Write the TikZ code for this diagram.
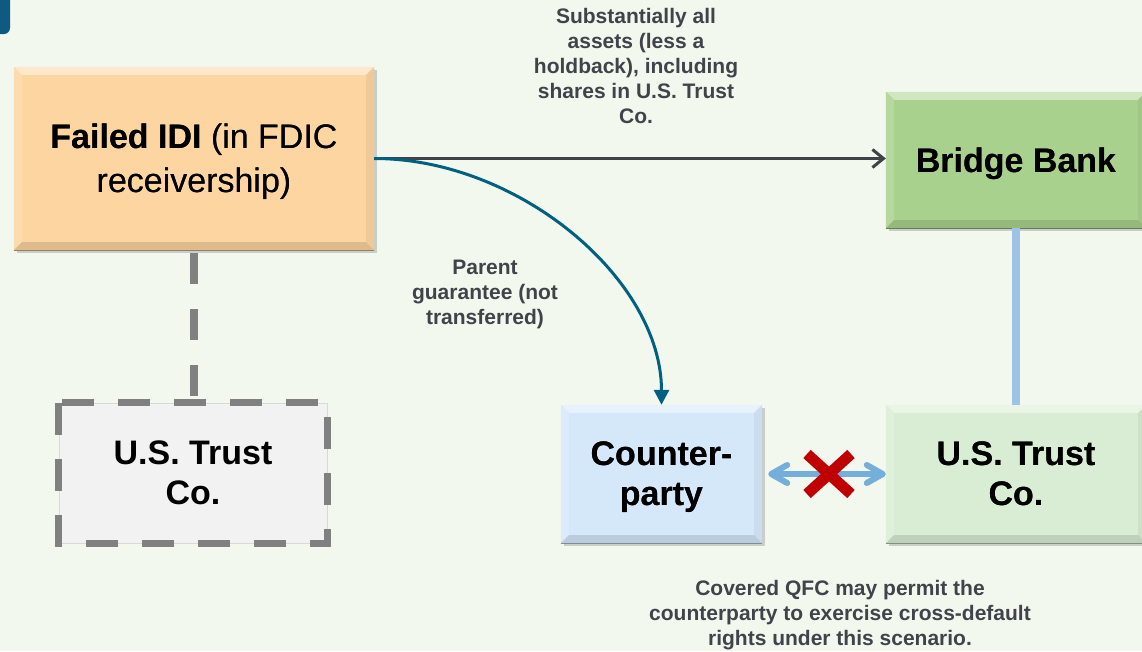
\documentclass[tikz,border=0pt]{standalone}
\usepackage{fontspec}
\setmainfont{Liberation Sans}
\usetikzlibrary{arrows.meta,shadows}
\definecolor{bgc}{HTML}{F3F8EF}
\definecolor{tabc}{HTML}{0E5A80}
\definecolor{peach}{HTML}{FCD5A0}
\definecolor{bridgec}{HTML}{A9D18E}
\definecolor{cpc}{HTML}{D5E8FA}
\definecolor{trustc}{HTML}{D8EDD3}
\definecolor{grayfill}{HTML}{F2F2F2}
\definecolor{dashc}{HTML}{808080}
\definecolor{darkc}{HTML}{3F4247}
\definecolor{tealc}{HTML}{00607F}
\definecolor{lblue}{HTML}{9DC3E6}
\definecolor{arrblue}{HTML}{74AFDA}
\definecolor{redx}{HTML}{C00000}
\definecolor{lblc}{HTML}{404349}
\newcommand\bevelize[2]{%
 \fill[#2!55!white] (#1.north west) -- (#1.north east) -- ([shift={(-8pt,-8pt)}]#1.north east) -- ([shift={(8pt,-8pt)}]#1.north west) -- cycle;
 \fill[#2!85!white] (#1.north west) -- ([shift={(8pt,-8pt)}]#1.north west) -- ([shift={(8pt,8pt)}]#1.south west) -- (#1.south west) -- cycle;
 \fill[#2!95!black] (#1.north east) -- ([shift={(-8pt,-8pt)}]#1.north east) -- ([shift={(-8pt,8pt)}]#1.south east) -- (#1.south east) -- cycle;
 \fill[#2!88!black] (#1.south west) -- ([shift={(8pt,8pt)}]#1.south west) -- ([shift={(-8pt,8pt)}]#1.south east) -- (#1.south east) -- cycle;
 \draw[#2!60!black, line width=1pt] (#1.south west) -- (#1.south east);
}
\begin{document}
\begin{tikzpicture}[x=1pt,y=-1pt,
  basebox/.style={inner sep=0pt, align=center, text depth=0pt, font=\fontsize{34}{40}\selectfont\bfseries},
  box/.style={basebox, drop shadow={shadow xshift=2.5pt,shadow yshift=-3pt,opacity=0.35}},
  lbl/.style={inner sep=0pt, align=center, text=lblc, font=\fontsize{21}{25}\selectfont\bfseries}]
\useasboundingbox (0,0) rectangle (1142,651);
\clip (0,0) rectangle (1142,651);
\fill[bgc] (0,0) rectangle (1142,651);
\fill[tabc, rounded corners=6pt] (-10,-10) rectangle (10,34);

% boxes
\node[box, fill=peach, minimum width=360pt, minimum height=183pt, font=\fontsize{34}{44}\selectfont] (idi) at (194,158.5) {\textbf{Failed IDI} (in FDIC\\receivership)};
\node[box, fill=bridgec, minimum width=260pt, minimum height=136pt] (bridge) at (1016,160) {Bridge Bank};
\node[box, fill=cpc, minimum width=201pt, minimum height=138pt] (cp) at (661.5,474) {Counter-\\party};
\node[box, fill=trustc, minimum width=260pt, minimum height=138pt] (trust) at (1016,474) {U.S. Trust\\Co.};
\node[basebox, fill=grayfill, draw=black!15, line width=0.8pt, minimum width=268pt, minimum height=140pt] (dtrust) at (193,473) {U.S. Trust\\Co.};
\draw[dashc, line width=7pt, dash pattern=on 32pt off 24pt] (dtrust.north west) rectangle (dtrust.south east);

\begin{scope}
\bevelize{idi}{peach}
\bevelize{bridge}{bridgec}
\bevelize{cp}{cpc}
\bevelize{trust}{trustc}
\end{scope}
\node[basebox, font=\fontsize{34}{44}\selectfont] at (idi) {\textbf{Failed IDI} (in FDIC\\receivership)};
\node[basebox] at (bridge) {Bridge Bank};
\node[basebox] at (cp) {Counter-\\party};
\node[basebox] at (trust) {U.S. Trust\\Co.};

% labels
\node[lbl] (lab1) at (636,65.5) {Substantially all\\assets (less a\\holdback), including\\shares in U.S. Trust\\Co.};
\node[lbl] (lab2) at (485,294.7) {Parent\\guarantee (not\\transferred)};
\node[lbl] (lab3) at (840,615) {Covered QFC may permit the\\counterparty to exercise cross-default\\rights under this scenario.};

% connectors
\draw[dashc, line width=8pt, dash pattern=on 31pt off 25pt, dash phase=-3pt] (idi.south) -- (idi.south |- dtrust.north);
\draw[darkc, line width=3pt, -{Straight Barb[length=11pt,width=18pt]}] (idi.east) -- (bridge.west |- idi.east);
\draw[tealc, line width=3pt, -{Triangle[length=15pt,width=15pt]}] (idi.east) .. controls +(145,0) and +(0,-125) .. (cp.north);
\draw[lblue, line width=8pt] (bridge.south) -- (trust.north);
\draw[arrblue, line width=6pt, {Straight Barb[length=16pt,width=18pt,round]}-{Straight Barb[length=16pt,width=18pt,round]}] ([xshift=6pt]cp.east) -- (trust.west);
\coordinate (xm) at (829,474);
\draw[redx, line width=11pt] ([shift={(-22pt,20pt)}]xm) -- ([shift={(22pt,-20pt)}]xm) ([shift={(22pt,20pt)}]xm) -- ([shift={(-22pt,-20pt)}]xm);
\end{tikzpicture}
\end{document}
